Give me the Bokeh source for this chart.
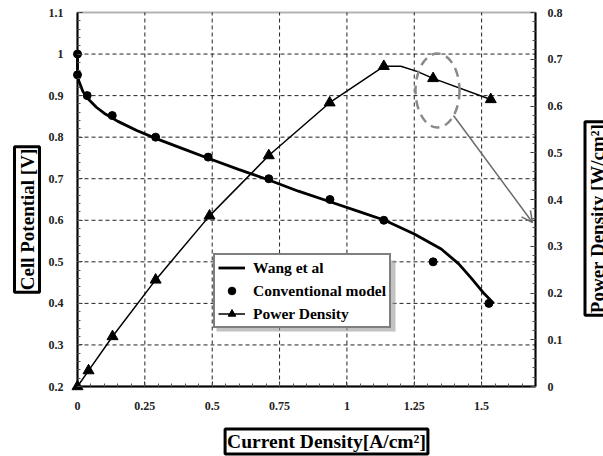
import numpy as np
from bokeh.plotting import figure
from bokeh.models import (Range1d, LinearAxis, FixedTicker, CustomJSTickFormatter, Legend,
                          LegendItem, Label, Arrow, OpenHead, BoxAnnotation)
from bokeh.embed import file_html
from bokeh.resources import INLINE

# ---------------- data ----------------
wang_x = [0.0, 0.0, 0.005, 0.02, 0.04, 0.07, 0.10, 0.15, 0.22, 0.29, 0.40, 0.49, 0.60,
          0.71, 0.82, 0.94, 1.04, 1.14, 1.25, 1.35, 1.415, 1.46, 1.51, 1.545]
wang_v = [1.0, 0.95, 0.935, 0.91, 0.892, 0.872, 0.857, 0.838, 0.816, 0.797, 0.770, 0.748,
          0.722, 0.697, 0.670, 0.644, 0.622, 0.600, 0.567, 0.531, 0.495, 0.462, 0.423, 0.400]

conv_x = [0.0, 0.0, 0.036, 0.129, 0.29, 0.485, 0.71, 0.937, 1.137, 1.32, 1.527]
conv_v = [1.0, 0.95, 0.90, 0.852, 0.80, 0.752, 0.70, 0.65, 0.60, 0.50, 0.40]

pd_x = [0.0, 0.041, 0.13, 0.29, 0.49, 0.71, 0.936, 1.137, 1.32, 1.534]
pd_w = [0.0, 0.034, 0.107, 0.228, 0.365, 0.494, 0.607, 0.685, 0.659, 0.614]
pd_line_x = [0.0, 0.041, 0.13, 0.29, 0.49, 0.71, 0.936, 1.137, 1.20, 1.26, 1.32, 1.534]
pd_line_w = [0.0, 0.034, 0.107, 0.228, 0.365, 0.494, 0.607, 0.685, 0.685, 0.674, 0.659, 0.614]

x_ticks = [0, 0.25, 0.5, 0.75, 1.0, 1.25, 1.5]
v_ticks = [0.2, 0.3, 0.4, 0.5, 0.6, 0.7, 0.8, 0.9, 1.0, 1.1]
w_ticks = [0.0, 0.1, 0.2, 0.3, 0.4, 0.5, 0.6, 0.7, 0.8]

X_RANGE = (0, 1.7)
V_RANGE = (0.2, 1.1)
W_RANGE = (0, 0.8)

# ---------------- layout: plot box position on the 603x456 canvas ----------------
W, H = 603, 456
FL, FR, FT, FB = 77, 535, 12, 386
SX = (FR - FL) / (X_RANGE[1] - X_RANGE[0])
SV = (FB - FT) / (V_RANGE[1] - V_RANGE[0])
SW = (FB - FT) / (W_RANGE[1] - W_RANGE[0])
x_lo, x_hi = X_RANGE[0] - FL / SX, X_RANGE[1] + (W - FR) / SX
v_lo, v_hi = V_RANGE[0] - (H - FB) / SV, V_RANGE[1] + FT / SV
w_lo, w_hi = W_RANGE[0] - (H - FB) / SW, W_RANGE[1] + FT / SW


def px_x(px):
    return x_lo + px / SX


def px_v(py):
    return v_hi - py / SV


FONT = "Liberation Serif"

p = figure(width=W, height=H, x_range=Range1d(x_lo, x_hi), y_range=Range1d(v_lo, v_hi),
           x_axis_location=None, y_axis_location=None,
           output_backend="svg", toolbar_location=None,
           min_border=0, min_border_left=0, min_border_right=0, min_border_top=0,
           min_border_bottom=0)
p.extra_y_ranges = {"power": Range1d(w_lo, w_hi)}
p.background_fill_color = "white"
p.border_fill_color = "white"
p.outline_line_color = None
p.xgrid.visible = False
p.ygrid.visible = False

fmt = CustomJSTickFormatter(code="return String(parseFloat(tick.toFixed(3)));")
x_minor = list(np.round(np.arange(0, 1.7001, 0.05), 3))
v_minor = list(np.round(np.arange(0.2, 1.1001, 0.02), 3))
w_minor = list(np.round(np.arange(0, 0.8001, 0.02), 3))

# dashed grid lines at the tick positions, limited to the plot box
gx = x_ticks[1:]
p.segment(x0=gx, y0=[V_RANGE[0]] * len(gx), x1=gx, y1=[V_RANGE[1]] * len(gx),
          line_color="#222222", line_width=1, line_dash="4 3", level="underlay")
gy = v_ticks[1:-1]
p.segment(x0=[X_RANGE[0]] * len(gy), y0=gy, x1=[X_RANGE[1]] * len(gy), y1=gy,
          line_color="#222222", line_width=1, line_dash="4 3", level="underlay")

# plot box outline
p.add_layout(BoxAnnotation(left=X_RANGE[0], right=X_RANGE[1], bottom=V_RANGE[0], top=V_RANGE[1],
                           fill_alpha=0, line_color="black", line_width=2, level="underlay"))

xaxis = LinearAxis(fixed_location=V_RANGE[0], bounds=X_RANGE,
                   ticker=FixedTicker(ticks=x_ticks, minor_ticks=x_minor))
yaxis = LinearAxis(fixed_location=X_RANGE[0], bounds=V_RANGE,
                   ticker=FixedTicker(ticks=v_ticks, minor_ticks=v_minor))
raxis = LinearAxis(y_range_name="power", fixed_location=X_RANGE[1], bounds=W_RANGE,
                   ticker=FixedTicker(ticks=w_ticks, minor_ticks=w_minor))
p.add_layout(xaxis, "below")
p.add_layout(yaxis, "left")
p.add_layout(raxis, "right")

for ax, standoff in ((xaxis, 15), (yaxis, 14), (raxis, 12)):
    ax.formatter = fmt
    ax.axis_line_color = "black"
    ax.axis_line_width = 2
    ax.major_tick_in = 5
    ax.major_tick_out = 0
    ax.minor_tick_in = 3
    ax.minor_tick_out = 0
    ax.major_tick_line_color = "#333333"
    ax.minor_tick_line_color = "#555555"
    ax.major_label_standoff = standoff
    ax.major_label_text_font = FONT
    ax.major_label_text_font_style = "bold"
    ax.major_label_text_font_size = "12px"
    ax.major_label_text_color = "#222222"

# ---------------- series ----------------
r_wang = p.line(wang_x, wang_v, line_color="black", line_width=2.8)
r_conv = p.scatter(conv_x, conv_v, marker="circle", size=8, fill_color="black", line_color="black")
r_pdl = p.line(pd_line_x, pd_line_w, y_range_name="power", line_color="black", line_width=1.5)
r_pdm = p.scatter(pd_x, pd_w, y_range_name="power", marker="triangle", size=11,
                  fill_color="black", line_color="black")

# highlight ellipse + arrow
p.ellipse(x=[px_x(437)], y=[px_v(90)], width=px_x(459) - px_x(415), height=px_v(53) - px_v(127),
          fill_alpha=0, line_color="#8a8a8a", line_width=2.5, line_dash="9 6")
p.add_layout(Arrow(end=OpenHead(size=11, line_color="#6b6b6b", line_width=1.5),
                   x_start=px_x(453), y_start=px_v(115), x_end=px_x(532), y_end=px_v(222),
                   line_color="#6b6b6b", line_width=1.5))

# legend shadow
p.add_layout(BoxAnnotation(left=px_x(216), right=px_x(395), top=px_v(260), bottom=px_v(331),
                           fill_color="#9a9a9a", fill_alpha=0.6, line_alpha=0))

legend = Legend(items=[LegendItem(label="Wang et al", renderers=[r_wang]),
                       LegendItem(label="Conventional model", renderers=[r_conv]),
                       LegendItem(label="Power Density", renderers=[r_pdl, r_pdm])],
                location=(213, H - 328), padding=3, spacing=4, margin=0,
                label_height=19, glyph_height=19, glyph_width=27, label_standoff=8,
                label_text_font=FONT, label_text_font_style="bold", label_text_font_size="15.5px",
                label_text_color="black", border_line_color="black", border_line_width=2,
                background_fill_color="white", background_fill_alpha=1)
p.add_layout(legend)

# boxed axis titles
common = dict(text_font=FONT, text_font_style="bold", text_align="center",
              text_baseline="middle", border_line_color="black", border_line_width=3,
              background_fill_color="white", text_color="black")
p.add_layout(Label(x=px_x(26.5), y=px_v(219), text="Cell Potential [V]", angle=np.pi / 2,
                   text_font_size="19px", padding=2, **common))
p.add_layout(Label(x=px_x(597), y=px_v(218), text="Power Density [W/cm²]", angle=np.pi / 2,
                   text_font_size="19px", padding=2, **common))
p.add_layout(Label(x=px_x(326), y=px_v(441), text="Current Density[A/cm²]",
                   text_font_size="19.5px", padding=2, **common))

open("out.html", "w").write(file_html(p, INLINE))
